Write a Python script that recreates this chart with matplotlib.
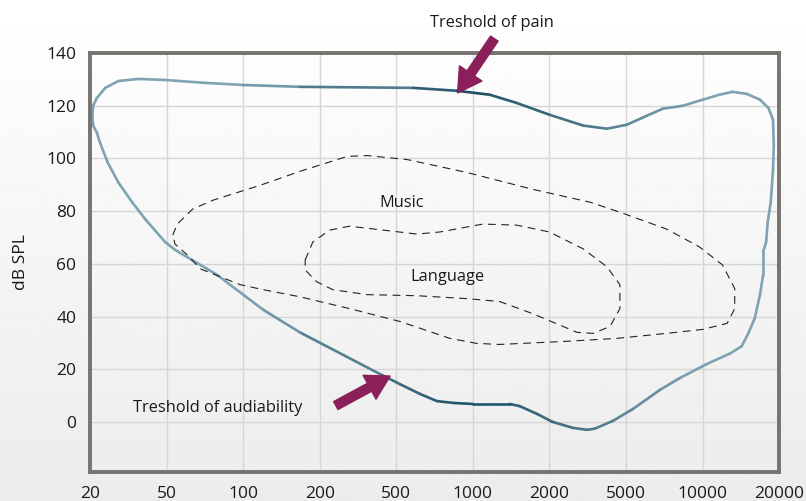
import numpy as np
import matplotlib
matplotlib.use("Agg")
import matplotlib.pyplot as plt
from matplotlib.collections import LineCollection
from matplotlib.colors import to_rgb

plt.rcParams['font.family'] = ['Open Sans', 'DejaVu Sans']

freq_labels = ["20", "50", "100", "200", "500", "1000", "2000", "5000", "10000", "20000"]
yticks = [0, 20, 40, 60, 80, 100, 120, 140]

# threshold loop (x = position on frequency axis, y = dB SPL), clockwise from far left
thr_x = [0.03, 0.04, 0.09, 0.20, 0.37, 0.63, 0.98, 1.50, 2.00, 2.74, 4.22, 4.79, 5.22,
         5.57, 6.00, 6.44, 6.75, 7.01, 7.27, 7.48, 7.74, 8.00, 8.22, 8.39, 8.58, 8.75,
         8.86, 8.92, 8.93, 8.92, 8.89, 8.85, 8.83, 8.79, 8.79, 8.75, 8.68, 8.59, 8.51,
         8.36, 8.05, 7.70, 7.44, 7.09, 6.83, 6.59, 6.49, 6.31, 6.04, 5.84, 5.61, 5.48,
         5.00, 4.74, 4.53, 4.31, 4.05, 3.79, 2.74, 2.26, 2.00, 1.66, 1.33, 1.11, 0.98,
         0.72, 0.55, 0.37, 0.23, 0.13, 0.09, 0.04, 0.03]
thr_y = [116.2, 120.0, 123.0, 126.8, 129.4, 130.2, 129.8, 128.7, 127.9, 127.2, 126.8,
         125.7, 124.2, 121.1, 116.6, 112.5, 111.3, 112.8, 116.2, 118.9, 120.0, 122.3,
         124.2, 125.3, 124.5, 122.3, 119.2, 114.7, 104.9, 95.8, 83.4, 75.8, 68.3, 64.5,
         55.8, 48.3, 39.2, 33.2, 28.7, 26.0, 21.9, 16.6, 12.1, 4.9, 0.4, -2.6, -3.0,
         -2.3, 0.0, 3.0, 6.0, 6.8, 6.8, 7.2, 7.9, 10.6, 14.3, 18.1, 34.0, 42.6, 48.3,
         55.8, 61.5, 65.3, 68.3, 77.0, 83.4, 90.9, 98.5, 106.0, 109.8, 112.5, 116.2]

music_x = [1.08, 1.14, 1.34, 1.61, 2.22, 2.74, 3.36, 3.62, 4.14, 4.92, 5.78, 6.53, 6.92,
           7.53, 7.96, 8.26, 8.42, 8.42, 8.32, 8.0, 7.53, 6.88, 6.23, 5.35, 5.05, 4.70,
           4.05, 3.39, 2.74, 2.26, 1.96, 1.44, 1.27, 1.11, 1.08]
music_y = [70.9, 75.1, 80.8, 84.2, 89.8, 95.1, 100.8, 101.1, 99.6, 94.7, 88.3, 83.4, 79.6,
           73.2, 66.4, 59.6, 50.6, 43.0, 37.4, 35.1, 33.6, 31.7, 30.6, 29.4, 29.8, 31.7,
           38.1, 43.0, 47.5, 50.2, 52.1, 58.1, 63.4, 67.5, 70.9]

lang_x = [2.81, 2.91, 3.13, 3.39, 3.83, 4.27, 4.57, 5.13, 5.57, 6.0, 6.44, 6.75, 6.92, 6.92,
          6.79, 6.57, 6.36, 5.78, 5.35, 4.92, 4.27, 3.62, 3.17, 2.96, 2.81, 2.81]
lang_y = [61.5, 68.3, 72.8, 74.3, 72.8, 71.3, 72.1, 75.1, 74.7, 72.1, 65.7, 58.9, 52.1, 43.0,
          36.2, 33.6, 34.0, 41.1, 45.7, 46.8, 47.9, 48.3, 50.2, 53.2, 57.7, 61.5]

fig = plt.figure(figsize=(8.06, 5.01), dpi=100)

# soft vertical gradient background
bg = fig.add_axes([0, 0, 1, 1], zorder=-10)
grad = np.linspace(1.0, 0.925, 256).reshape(-1, 1)
bg.imshow(grad, aspect='auto', cmap='gray', vmin=0, vmax=1, extent=[0, 1, 0, 1])
bg.axis('off')

ax = fig.add_axes([0.1117, 0.058, 0.855, 0.836])
ax.set_facecolor('none')
ax.set_xlim(0, 9)
ax.set_ylim(-19, 140)
ax.set_xticks(range(len(freq_labels)))
ax.set_xticklabels(freq_labels)
ax.set_yticks(yticks)
ax.tick_params(length=0, labelsize=12.5, colors='#1a1a1a', pad=10)
ax.grid(True, color='#d6d6d6', lw=1)
ax.set_axisbelow(True)
for s in ax.spines.values():
    s.set_color('#77736f')
    s.set_linewidth(2.8)
ax.set_ylabel('dB SPL', fontsize=12.5, color='#1a1a1a', labelpad=12)

# threshold curve, darker toward the middle of the range
pts = np.column_stack([thr_x, thr_y])
segs = np.stack([pts[:-1], pts[1:]], axis=1)
mid = segs[:, :, 0].mean(axis=1)
t = np.clip(1 - np.abs(mid - 5.0) / 3.0, 0, 1)
light = np.array(to_rgb('#80a3b1'))
dark = np.array(to_rgb('#1c4f66'))
cols = light[None, :] * (1 - t[:, None]) + dark[None, :] * t[:, None]
lc = LineCollection(segs, colors=cols, linewidths=1.9, capstyle='round', joinstyle='round')
ax.add_collection(lc)

ax.plot(music_x, music_y, color='#222222', lw=0.8, dashes=(7, 5))
ax.plot(lang_x, lang_y, color='#222222', lw=0.8, dashes=(7, 5))

fs = 11.8
ax.text(4.07, 83, 'Music', fontsize=fs, ha='center', va='center', color='#1a1a1a')
ax.text(4.67, 55, 'Language', fontsize=fs, ha='center', va='center', color='#1a1a1a')
ax.text(1.67, 5.3, 'Treshold of audiability', fontsize=fs, ha='center', va='center',
        color='#1a1a1a')
ax.text(5.25, 151.5, 'Treshold of pain', fontsize=fs, ha='center', va='center',
        color='#1a1a1a', clip_on=False)

arrow = dict(arrowstyle='simple,head_length=1.3,head_width=1.5,tail_width=0.5',
             color='#8a1f59', mutation_scale=13, shrinkA=0, shrinkB=0)
ax.annotate('', xy=(4.80, 124.9), xytext=(5.28, 145.5), arrowprops=arrow,
            annotation_clip=False)
ax.annotate('', xy=(3.92, 17.4), xytext=(3.21, 6.2), arrowprops=arrow,
            annotation_clip=False)

fig.savefig('out.png', dpi=100)
